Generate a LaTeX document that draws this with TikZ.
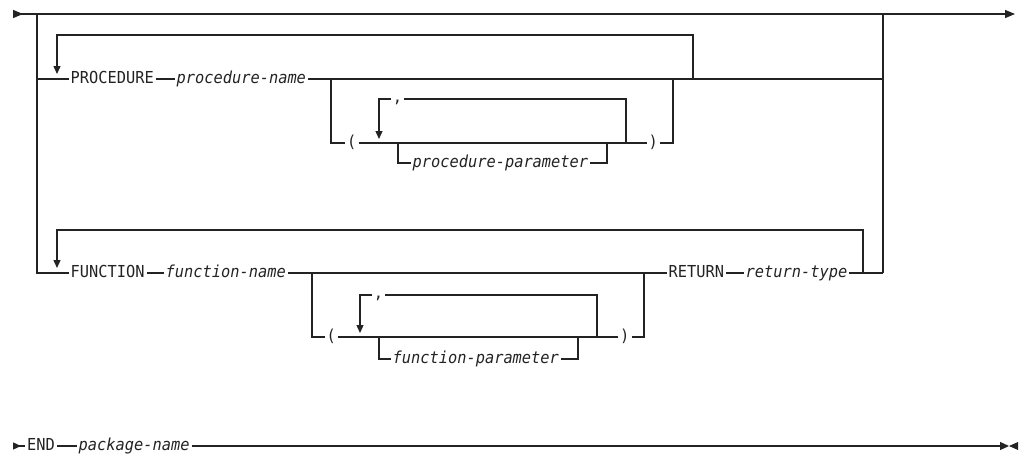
\documentclass[tikz,border=0pt]{standalone}
\usepackage{fontspec}
\setmonofont{DejaVu Sans Mono}[FakeStretch=0.93]
\usetikzlibrary{arrows.meta}
\definecolor{ink}{RGB}{35,35,35}
\begin{document}
\begin{tikzpicture}[x=1pt,y=-1pt,line width=1.3pt,color=ink,
  kw/.style={inner xsep=1.5pt,inner ysep=0pt,text height=9pt,text depth=0pt,anchor=west,
    font=\ttfamily\fontsize{16.5}{19}\selectfont},
  var/.style={kw,font=\ttfamily\itshape\fontsize{16.5}{19}\selectfont},
  sepc/.style={kw,text height=7pt,anchor=center},
  back/.style={-{Triangle[length=8pt,width=7pt]}}]
\useasboundingbox (0,0) rectangle (1022,455);

% main line
\coordinate (s) at (13,14);
\coordinate (e) at (1015,14);
\draw[{Triangle[reversed,length=10pt,width=8pt]}-{Triangle[length=10pt,width=8pt]}] (s) -- (e);
\coordinate (lt) at (37,14);
\coordinate (rt) at (883,14);
\coordinate (lp) at (37,79);
\coordinate (rp) at (883,79);
\coordinate (rf) at (883,273);

% PROCEDURE row
\node[kw] (proc) at (68.5,79) {PROCEDURE};
\node[var] (pname) at (174.5,79) {procedure-name};
\draw (lp) -- (proc.west);
\draw (proc.east) -- (pname.west);
\draw (pname.east) -- (rp);
\coordinate (pl) at (693,79);
\coordinate (ptop) at (693,35);
\coordinate (pa) at (57,74);
\draw[back] (pl) -- (ptop) -| (pa);

\coordinate (ob1) at (331,79);
\coordinate (ob2) at (673,79);
\node[kw] (lp1) at (345,143) {(};
\node[kw] (rp1) at (646.5,143) {)};
\draw (ob1) |- (lp1.west);
\draw (lp1.east) -- (rp1.west);
\draw (rp1.east) -| (ob2);

\coordinate (il1) at (626,143);
\node[sepc] (c1) at (397.5,99) {,};
\coordinate (ia1) at (379,139);
\draw (il1) |- (c1.east);
\draw[back] (c1.west) -| (ia1);

\coordinate (pb1) at (398,143);
\coordinate (pb2) at (607,143);
\node[var] (pp) at (410.5,163) {procedure-parameter};
\draw (pb1) |- (pp.west);
\draw (pp.east) -| (pb2);

% FUNCTION row
\node[kw] (func) at (68.5,273) {FUNCTION};
\node[var] (fname) at (163.5,273) {function-name};
\node[kw] (ret) at (666.5,273) {RETURN};
\node[var] (rtype) at (743.5,273) {return-type};
\draw (lt) |- (func.west);
\draw (func.east) -- (fname.west);
\draw (fname.east) -- (ret.west);
\draw (ret.east) -- (rtype.west);
\draw (rtype.east) -- (rf);
\draw (rt) -- (rf);
\coordinate (fl) at (863,273);
\coordinate (ftop) at (863,230);
\coordinate (fa) at (57,268);
\draw[back] (fl) -- (ftop) -| (fa);

\coordinate (ob3) at (312,273);
\coordinate (ob4) at (644,273);
\node[kw] (lp2) at (324.5,337) {(};
\node[kw] (rp2) at (618,337) {)};
\draw (ob3) |- (lp2.west);
\draw (lp2.east) -- (rp2.west);
\draw (rp2.east) -| (ob4);

\coordinate (il2) at (597,337);
\node[sepc] (c2) at (378.5,295) {,};
\coordinate (ia2) at (360,333);
\draw (il2) |- (c2.east);
\draw[back] (c2.west) -| (ia2);

\coordinate (pb3) at (379,337);
\coordinate (pb4) at (578,337);
\node[var] (fp) at (390.5,359) {function-parameter};
\draw (pb3) |- (fp.west);
\draw (fp.east) -| (pb4);

% END row
\coordinate (s2) at (13,446);
\coordinate (e2) at (1009,446);
\coordinate (e3) at (1018,446);
\node[kw] (endk) at (25,446) {END};
\node[var] (pkg) at (76.5,446) {package-name};
\draw[{Triangle[reversed,length=8pt,width=7pt]}-] (s2) -- (endk.west);
\draw (endk.east) -- (pkg.west);
\draw[-{Triangle[length=9pt,width=8pt]}] (pkg.east) -- (e2);
\fill (e3) ++(0,-4) -- (e2) -- ++(9,4) -- cycle;
\end{tikzpicture}
\end{document}
